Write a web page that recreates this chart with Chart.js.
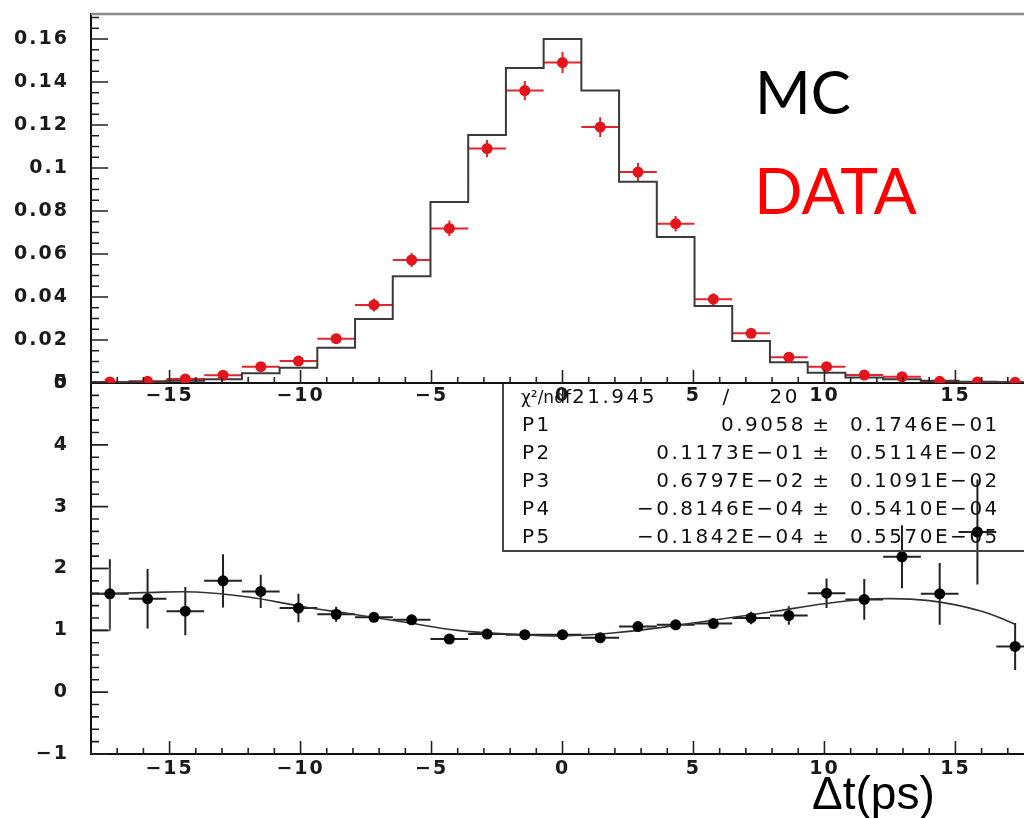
<!DOCTYPE html>
<html lang="en">
<head>
    <meta charset="UTF-8">
    <title>Delta t: MC vs DATA</title>
    <script src="https://cdn.jsdelivr.net/npm/chart.js"></script>
    <style>
        html, body { margin: 0; padding: 0; background: #fff; overflow: hidden; }
        body { position: relative; width: 1024px; height: 818px; }
        .pad { position: absolute; left: 0; }
        .label { position: absolute; line-height: 1; white-space: nowrap; }
    </style>
</head>
<body>
    <div class="pad" style="top:370px"><canvas id="ratioChart" width="1040" height="448"></canvas></div>
    <div class="pad" style="top:0"><canvas id="distChart" width="1040" height="410"></canvas></div>

    <div class="label" style="left:755px;top:55px;font:60px Lato;color:#000">MC</div>
    <div class="label" style="left:754px;top:151px;font:64px Lato;color:#f00">DATA</div>
    <div class="label" style="left:812px;top:766px;font:46px 'Liberation Sans';color:#000">Δt(ps)</div>

    <script>
        // Bins in Δt (ps), 25 bins from -18 to 18
        const binCenters = [-17.28, -15.84, -14.4, -12.96, -11.52, -10.08, -8.64, -7.2, -5.76, -4.32, -2.88, -1.44, 0,
                            1.44, 2.88, 4.32, 5.76, 7.2, 8.64, 10.08, 11.52, 12.96, 14.4, 15.84, 17.28];
        const binHalfWidth = 0.72;

        // Top pad: MC histogram and data points
        const mcValues = [0.0003, 0.0006, 0.0011, 0.0017, 0.0045, 0.0071, 0.0164, 0.0298, 0.0496, 0.0842, 0.1153, 0.1465, 0.1600,
                          0.1360, 0.0936, 0.0679, 0.0358, 0.0195, 0.0096, 0.0048, 0.0025, 0.0017, 0.0010, 0.0006, 0.0003];
        const dataValues = [0.0005, 0.0008, 0.0019, 0.0036, 0.0076, 0.0102, 0.0206, 0.0363, 0.0572, 0.0719, 0.1090, 0.1360, 0.1490,
                            0.1190, 0.0981, 0.0741, 0.0390, 0.0231, 0.0120, 0.0076, 0.0037, 0.0029, 0.0008, 0.0005, 0.0003];
        const dataErrors = [0.0004, 0.0005, 0.0008, 0.0011, 0.0015, 0.0017, 0.0023, 0.0030, 0.0033, 0.0037, 0.0040, 0.0045, 0.0050,
                            0.0046, 0.0042, 0.0036, 0.0027, 0.0020, 0.0015, 0.0012, 0.0009, 0.0008, 0.0005, 0.0004, 0.0003];

        // Bottom pad: DATA/MC ratio and fitted curve
        const ratioValues = [1.59, 1.51, 1.31, 1.80, 1.63, 1.36, 1.26, 1.21, 1.17, 0.86, 0.94, 0.93, 0.93,
                             0.88, 1.06, 1.09, 1.11, 1.20, 1.24, 1.60, 1.50, 2.19, 1.59, 2.59, 0.74];
        const ratioErrors = [0.56, 0.48, 0.39, 0.43, 0.27, 0.23, 0.12, 0.06, 0.06, 0.04, 0.03, 0.03, 0.03,
                             0.03, 0.04, 0.05, 0.06, 0.10, 0.15, 0.24, 0.33, 0.51, 0.50, 0.85, 0.38];
        const fitX = [-18, -16, -14, -12, -10, -8, -6, -4, -2, 0, 2, 4, 6, 8, 10, 12, 14, 16, 17.28];
        const fitY = [1.59, 1.61, 1.62, 1.54, 1.39, 1.26, 1.13, 1.00, 0.94, 0.91, 0.96, 1.06, 1.18, 1.30, 1.43, 1.51, 1.48, 1.31, 1.10];
        const firstBinX = [-18, -17.28, -17.28, -18];
        const firstBinY = [2.0, 2.0, 1.0, 1.0];

        // Axes
        const xTicks = [-15, -10, -5, 0, 5, 10, 15];
        const yTicksTop = [0, 0.02, 0.04, 0.06, 0.08, 0.1, 0.12, 0.14, 0.16];
        const yTicksBottom = [-1, 0, 1, 2, 3, 4, 5];

        // Fit box
        const chi2Text = ['χ²/ndf', '21.945', '/', '20'];
        const paramNames = ['P1', 'P2', 'P3', 'P4', 'P5'];
        const paramValues = ['0.9058', '0.1173E−01', '0.6797E−02', '−0.8146E−04', '−0.1842E−04'];
        const paramErrors = ['0.1746E−01', '0.5114E−02', '0.1091E−02', '0.5410E−04', '0.5570E−05'];

        const minus = v => (v < 0 ? '\u2212' + Math.abs(v) : String(v));

        // wider letters, like the stretched ROOT fonts
        const spacing = {
            id: 'spacing',
            beforeDraw(chart) { chart.ctx.letterSpacing = '2px'; }
        };

        // error bars drawn from the scales, under the markers
        const errorBars = {
            id: 'errorBars',
            beforeDatasetsDraw(chart) {
                const { ctx, chartArea: a, scales: { x, y } } = chart;
                chart.data.datasets.forEach(ds => {
                    if (!ds.errY) return;
                    ctx.save();
                    ctx.beginPath();
                    ctx.rect(a.left, a.top, a.right - a.left, a.bottom - a.top);
                    ctx.clip();
                    ctx.strokeStyle = ds.errColor;
                    ctx.lineWidth = 2;
                    ctx.beginPath();
                    ds.data.forEach((p, k) => {
                        const px = x.getPixelForValue(p.x);
                        const py = y.getPixelForValue(p.y);
                        ctx.moveTo(x.getPixelForValue(p.x - ds.errX), py);
                        ctx.lineTo(x.getPixelForValue(p.x + ds.errX), py);
                        ctx.moveTo(px, y.getPixelForValue(p.y - ds.errY[k]));
                        ctx.lineTo(px, y.getPixelForValue(p.y + ds.errY[k]));
                    });
                    ctx.stroke();
                    ctx.restore();
                });
            }
        };

        // inward ticks (major + minor) and the top frame line
        const rootTicks = {
            id: 'rootTicks',
            afterDraw(chart, args, opts) {
                const { ctx, chartArea: a, scales: { x, y } } = chart;
                ctx.save();
                if (opts.frameTop) {
                    ctx.strokeStyle = '#8a8a8a';
                    ctx.lineWidth = 2.5;
                    ctx.beginPath();
                    ctx.moveTo(a.left, a.top);
                    ctx.lineTo(a.right + 10, a.top);
                    ctx.stroke();
                }
                ctx.strokeStyle = '#222';
                ctx.lineWidth = 1.6;
                ctx.beginPath();
                const xMajor = x.ticks.map(t => t.value);
                for (let i = 0; ; i++) {
                    const v = x.min + i * opts.xStep;
                    if (v > x.max + 1e-9) break;
                    const len = xMajor.some(m => Math.abs(m - v) < 1e-6) ? 13 : 6;
                    const px = x.getPixelForValue(v);
                    ctx.moveTo(px, a.bottom);
                    ctx.lineTo(px, a.bottom - len);
                }
                const yMajor = y.ticks.map(t => t.value);
                for (let i = 0; ; i++) {
                    const v = y.min + i * opts.yStep;
                    if (v > y.max + 1e-9) break;
                    const len = yMajor.some(m => Math.abs(m - v) < 1e-6) ? 17 : 8;
                    const py = y.getPixelForValue(v);
                    ctx.moveTo(a.left, py);
                    ctx.lineTo(a.left + len, py);
                }
                ctx.stroke();
                ctx.restore();
            }
        };

        // the fit result box
        const fitBox = {
            id: 'fitBox',
            afterDraw(chart) {
                const { ctx, chartArea: a } = chart;
                ctx.save();
                ctx.strokeStyle = '#444';
                ctx.lineWidth = 2;
                ctx.strokeRect(503, a.top, 560, 168);
                ctx.fillStyle = '#111';
                ctx.textBaseline = 'alphabetic';
                const base = a.top + 20, step = 28;
                ctx.font = '17px "DejaVu Sans"';
                ctx.letterSpacing = '0px';
                ctx.textAlign = 'left';
                ctx.fillText(chi2Text[0], 521, base);
                ctx.font = '20px "DejaVu Sans"';
                ctx.letterSpacing = '2.5px';
                ctx.fillText(chi2Text[1], 572, base);
                ctx.textAlign = 'center';
                ctx.fillText(chi2Text[2], 727, base);
                ctx.textAlign = 'right';
                ctx.fillText(chi2Text[3], 800, base);
                paramNames.forEach((name, i) => {
                    const yy = base + step * (i + 1);
                    ctx.textAlign = 'left';
                    ctx.fillText(name, 522, yy);
                    ctx.textAlign = 'right';
                    ctx.fillText(paramValues[i], 806, yy);
                    ctx.textAlign = 'center';
                    ctx.fillText('±', 822, yy);
                    ctx.textAlign = 'left';
                    ctx.fillText(paramErrors[i], 850, yy);
                });
                ctx.restore();
            }
        };

        const tickFont = { family: 'DejaVu Sans', size: 19, weight: 'bold' };

        // keep the plot frame fixed: no extra room for the tick labels
        function noPadding(s) {
            s.paddingTop = 0; s.paddingBottom = 0; s.paddingLeft = 0; s.paddingRight = 0;
        }

        function xScale(labelPadding, bottomHeight) {
            return {
                type: 'linear', min: -18, max: 18,
                afterBuildTicks: s => { s.ticks = xTicks.map(v => ({ value: v })); },
                afterFit: s => { s.height = bottomHeight; noPadding(s); },
                grid: { display: false, drawTicks: false },
                border: { display: true, color: '#111', width: 2 },
                ticks: { font: tickFont, color: '#1a1a1a', padding: labelPadding, maxRotation: 0, callback: v => minus(v) }
            };
        }

        function yScale(min, max, values, fmt) {
            return {
                type: 'linear', min: min, max: max,
                afterBuildTicks: s => { s.ticks = values.map(v => ({ value: v })); },
                afterFit: s => { s.width = 91; noPadding(s); },
                grid: { display: false, drawTicks: false },
                border: { display: true, color: '#111', width: 2 },
                ticks: { font: tickFont, color: '#1a1a1a', padding: 22, callback: fmt }
            };
        }

        // top pad
        const mcStep = binCenters.map((c, i) => ({ x: c - binHalfWidth, y: mcValues[i] }));
        mcStep.push({ x: binCenters[binCenters.length - 1] + binHalfWidth, y: mcValues[mcValues.length - 1] });

        new Chart(document.getElementById('distChart'), {
            type: 'scatter',
            data: {
                datasets: [
                    {
                        label: 'DATA',
                        data: binCenters.map((c, i) => ({ x: c, y: dataValues[i] })),
                        pointRadius: 5.5, pointBackgroundColor: '#e3141c', pointBorderWidth: 0,
                        errY: dataErrors, errX: binHalfWidth, errColor: '#e3262c'
                    },
                    {
                        type: 'line', label: 'MC', data: mcStep, stepped: 'before',
                        borderColor: '#3a3a3a', borderWidth: 2, pointRadius: 0, fill: false
                    }
                ]
            },
            options: {
                responsive: false, animation: false,
                layout: { padding: { top: 14, right: 6, left: 0, bottom: 0 } },
                plugins: { legend: { display: false }, tooltip: { enabled: false },
                           rootTicks: { xStep: 1, yStep: 0.005, frameTop: true } },
                scales: {
                    x: xScale(2, 27),
                    y: yScale(0, 0.1716, yTicksTop, v => String(+v.toFixed(2)))
                }
            },
            plugins: [spacing, errorBars, rootTicks]
        });

        // bottom pad
        new Chart(document.getElementById('ratioChart'), {
            type: 'scatter',
            data: {
                datasets: [
                    {
                        label: 'DATA/MC',
                        data: binCenters.map((c, i) => ({ x: c, y: ratioValues[i] })),
                        pointRadius: 5.5, pointBackgroundColor: '#000', pointBorderWidth: 0,
                        errY: ratioErrors, errX: binHalfWidth, errColor: '#222'
                    },
                    {
                        type: 'line', label: 'fit', data: fitX.map((v, i) => ({ x: v, y: fitY[i] })),
                        borderColor: '#333', borderWidth: 1.6, pointRadius: 0, tension: 0.4, fill: false
                    },
                    {
                        type: 'line', label: 'first bin', data: firstBinX.map((v, i) => ({ x: v, y: firstBinY[i] })),
                        borderColor: '#555', borderWidth: 1.6, pointRadius: 0, tension: 0, fill: false
                    }
                ]
            },
            options: {
                responsive: false, animation: false,
                layout: { padding: { top: 13, right: 6, left: 0, bottom: 0 } },
                plugins: { legend: { display: false }, tooltip: { enabled: false },
                           rootTicks: { xStep: 1, yStep: 0.2 } },
                scales: {
                    x: xScale(4, 64),
                    y: yScale(-1, 5, yTicksBottom, v => minus(v))
                }
            },
            plugins: [spacing, errorBars, rootTicks, fitBox]
        });
    </script>
</body>
</html>
